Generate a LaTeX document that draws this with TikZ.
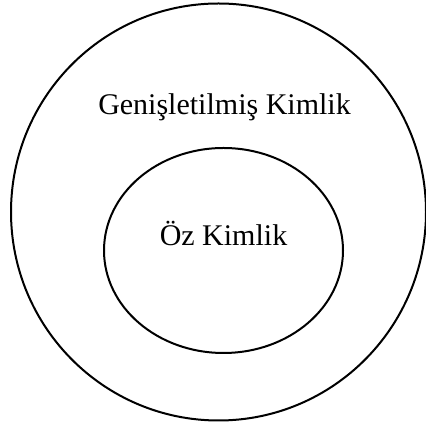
\documentclass[tikz,border=0pt]{standalone}
\usepackage{fontspec}
\setmainfont{Liberation Serif}
\usetikzlibrary{shapes.geometric, positioning}

\begin{document}
\begin{tikzpicture}[
    x=1pt, y=1pt,
    every node/.style={font=\fontsize{30}{36}\selectfont},
    ring/.style={
        ellipse, draw=black, line width=2pt,
        inner sep=0pt
    },
    label/.style={anchor=base, inner sep=0pt}
]
\useasboundingbox (0,0) rectangle (426,425);

\node[ring, minimum width=415pt, minimum height=417pt] (outer) at (218.5,213) {};
\node[ring, minimum width=239pt, minimum height=205pt] (inner) at (223.5,174.5) {};

\node[label] (extended) at (224.5,310) {Genişletilmiş Kimlik};
\node[label] (core) at (223.5,179) {Öz Kimlik};

\end{tikzpicture}
\end{document}
